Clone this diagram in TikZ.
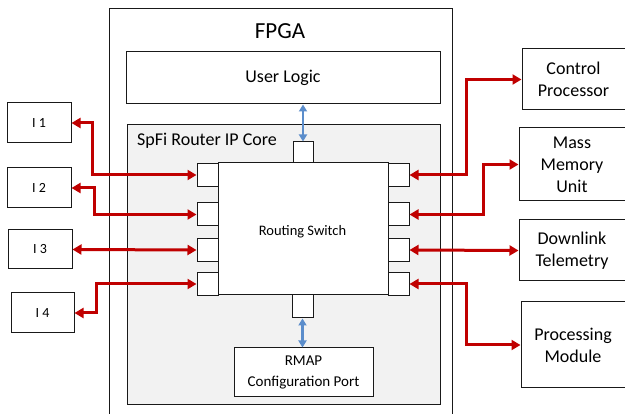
\documentclass[tikz,border=0pt]{standalone}
\usepackage{fontspec}
\setmainfont{Carlito}
\usetikzlibrary{arrows.meta}
\definecolor{arrred}{HTML}{C00000}
\definecolor{arrblue}{HTML}{5B8DCB}
\definecolor{coregray}{HTML}{F2F2F2}
\begin{document}
\begin{tikzpicture}[x=1pt,y=-1pt,
  box/.style={draw=black!90,line width=1pt,fill=white,inner sep=0pt,align=center},
  port/.style={box,minimum width=21pt,minimum height=23pt},
  redarrow/.style={draw=arrred,line width=3pt,{Triangle[length=9pt,width=10pt]}-{Triangle[length=9pt,width=10pt]}},
  bluearrow/.style={draw=arrblue,line width=2.5pt,{Triangle[length=7pt,width=8pt]}-{Triangle[length=7pt,width=8pt]}},
  lbl/.style={font=\fontsize{18}{22}\selectfont},
  ilbl/.style={font=\fontsize{14}{17}\selectfont}]
\clip (0,0) rectangle (625,414);
% FPGA outer
\node[box,minimum width=343pt,minimum height=440pt] (fpga) at (280.5,229) {};
\node[font=\fontsize{23}{27}\selectfont] (fpgalabel) at (280,31) {FPGA};
% User logic
\node[box,lbl,minimum width=314pt,minimum height=52pt] (ul) at (283,78) {User Logic};
% Core
\node[box,fill=coregray,minimum width=313pt,minimum height=280pt] (core) at (283.5,265) {};
\node[lbl,anchor=west,inner sep=0pt] (corelabel) at (137,141) {SpFi Router IP Core};
% switch
\node[box,minimum width=170pt,minimum height=132pt] (sw) at (303,229) {};
\node[font=\fontsize{14.5}{17}\selectfont] (swlabel) at (302.5,232) {Routing Switch};
% ports
\node[port] (lp1) at (207.5,175) {};
\node[port] (lp2) at (207.5,214.5) {};
\node[port] (lp3) at (207.5,250) {};
\node[port] (lp4) at (207.5,284) {};
\node[port] (rp1) at (398.5,175) {};
\node[port] (rp2) at (398.5,214.5) {};
\node[port] (rp3) at (398.5,250) {};
\node[port] (rp4) at (398.5,284) {};
\node[port,minimum width=20pt,minimum height=21pt] (tp) at (303,152.5) {};
\node[port,minimum width=21pt,minimum height=23pt] (bp) at (302.5,306.5) {};
% RMAP
\node[box,minimum width=139pt,minimum height=49pt,font=\fontsize{15}{21}\selectfont] (rmap) at (303.5,372.5) {RMAP\\Configuration Port};
% left boxes
\node[box,ilbl,minimum width=64pt,minimum height=40pt] (i1) at (39,123) {I 1};
\node[box,ilbl,minimum width=64pt,minimum height=40pt] (i2) at (39,188) {I 2};
\node[box,ilbl,minimum width=64pt,minimum height=39pt] (i3) at (40,249.5) {I 3};
\node[box,ilbl,minimum width=63pt,minimum height=40pt] (i4) at (42.5,313) {I 4};
% right boxes
\node[box,lbl,minimum width=103pt,minimum height=61pt] (cp) at (573.5,79.5) {Control\\Processor};
\node[box,lbl,minimum width=106pt,minimum height=73pt] (mmu) at (572,164.5) {Mass\\Memory\\Unit};
\node[box,lbl,minimum width=106pt,minimum height=61pt] (dt) at (572,250.5) {Downlink\\Telemetry};
\node[box,lbl,minimum width=104pt,minimum height=86pt] (pm) at (573,345) {Processing\\Module};
% bend coordinates
\coordinate (b1) at (92,0);
\coordinate (b2) at (94,0);
\coordinate (b4) at (96,0);
\coordinate (c1) at (466,0);
\coordinate (c2) at (483,0);
% red connectors
\draw[redarrow] (i1.east) -| (b1 |- lp1.west) -- (lp1.west);
\draw[redarrow] (i2.east) -| (b2 |- lp2.west) -- (lp2.west);
\draw[redarrow] (i3.east) -- (lp3.west);
\draw[redarrow] (i4.east) -| (b4 |- lp4.west) -- (lp4.west);
\draw[redarrow] (rp1.east) -| (c1 |- cp.west) -- (cp.west);
\draw[redarrow] (rp2.east) -| (c2 |- mmu.west) -- (mmu.west);
\draw[redarrow] (rp3.east) -- (dt.west);
\draw[redarrow] (rp4.east) -| (c1 |- pm.west) -- (pm.west);
% blue connectors
\draw[bluearrow] (tp.north |- ul.south) -- (tp.north);
\draw[bluearrow] (bp.south) -- (bp.south |- rmap.north);
\end{tikzpicture}
\end{document}
